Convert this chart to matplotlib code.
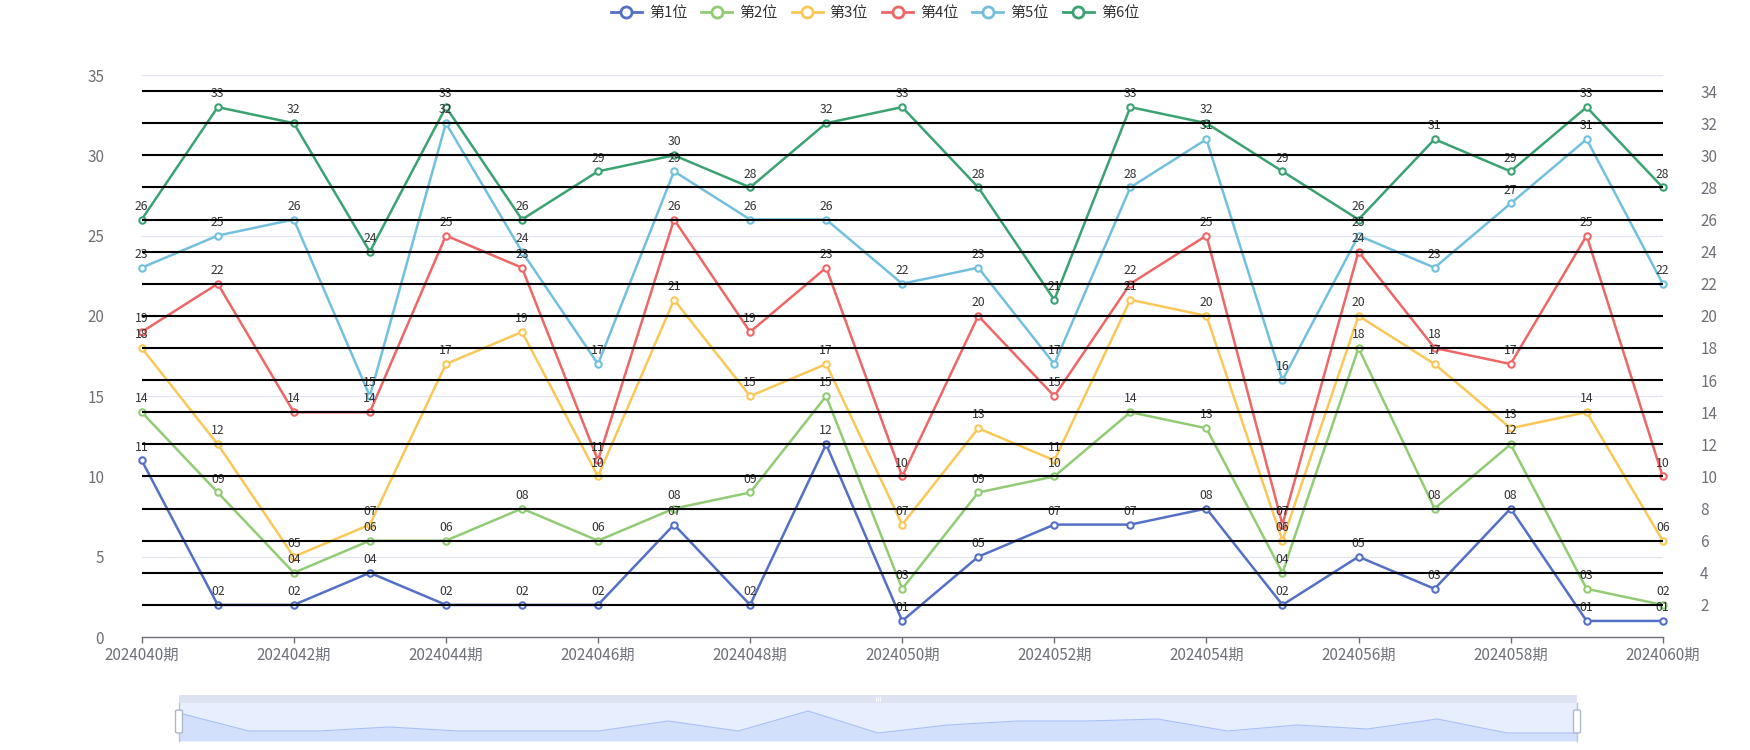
import matplotlib
matplotlib.use('Agg')
import matplotlib.pyplot as plt
from matplotlib.lines import Line2D
from matplotlib.patches import FancyBboxPatch

plt.rcParams['font.family'] = ['Noto Sans CJK SC', 'DejaVu Sans']

periods = ['2024040期', '2024041期', '2024042期', '2024043期', '2024044期', '2024045期',
           '2024046期', '2024047期', '2024048期', '2024049期', '2024050期', '2024051期',
           '2024052期', '2024053期', '2024054期', '2024055期', '2024056期', '2024057期',
           '2024058期', '2024059期', '2024060期']

names = ['第1位', '第2位', '第3位', '第4位', '第5位', '第6位']

pos1 = [11, 2, 2, 4, 2, 2, 2, 7, 2, 12, 1, 5, 7, 7, 8, 2, 5, 3, 8, 1, 1]
pos2 = [14, 9, 4, 6, 6, 8, 6, 8, 9, 15, 3, 9, 10, 14, 13, 4, 18, 8, 12, 3, 2]
pos3 = [18, 12, 5, 7, 17, 19, 10, 21, 15, 17, 7, 13, 11, 21, 20, 6, 20, 17, 13, 14, 6]
pos4 = [19, 22, 14, 14, 25, 23, 11, 26, 19, 23, 10, 20, 15, 22, 25, 7, 24, 18, 17, 25, 10]
pos5 = [23, 25, 26, 15, 32, 24, 17, 29, 26, 26, 22, 23, 17, 28, 31, 16, 25, 23, 27, 31, 22]
pos6 = [26, 33, 32, 24, 33, 26, 29, 30, 28, 32, 33, 28, 21, 33, 32, 29, 26, 31, 29, 33, 28]

left_ticks = [0, 5, 10, 15, 20, 25, 30, 35]
right_ticks = [2, 4, 6, 8, 10, 12, 14, 16, 18, 20, 22, 24, 26, 28, 30, 32, 34]

series = [pos1, pos2, pos3, pos4, pos5, pos6]
colors = ['#5470c6', '#91cc75', '#fac858', '#ee6666', '#73c0de', '#3ba272']

W, H = 1750, 750
fig = plt.figure(figsize=(W / 100, H / 100), dpi=100)

x0, x1 = 141.7, 1662.7
ytop, ybot = 75, 637
ax = fig.add_axes([x0 / W, 1 - ybot / H, (x1 - x0) / W, (ybot - ytop) / H])
ax.set_xlim(0, len(periods) - 1)
ax.set_ylim(0, 35)

xs = list(range(len(periods)))

# light grid of left axis
for t in left_ticks[1:]:
    ax.axhline(t, color='#E0E6F1', lw=0.9, zorder=0)

for vals, c in zip(series, colors):
    ax.plot(xs, vals, color=c, lw=1.8, marker='o', ms=4.6, mfc='white', mec=c,
            mew=1.5, zorder=3, clip_on=False)
    for xi, v in zip(xs, vals):
        ax.annotate(f'{v:02d}', (xi, v), xytext=(0, 9.6), textcoords='offset points',
                    ha='center', va='center', fontsize=8.8, color='#333333', zorder=4,
                    annotation_clip=False)

ax.set_xticks(xs[::2])
ax.set_xticklabels(periods[::2])
ax.set_yticks(left_ticks)
for s in ['top', 'left', 'right']:
    ax.spines[s].set_visible(False)
ax.spines['bottom'].set_color('#6E7079')
ax.spines['bottom'].set_linewidth(1.0)
ax.tick_params(axis='x', length=4.3, width=1.0, color='#6E7079', pad=3,
               labelsize=11, labelcolor='#6E7079')
ax.tick_params(axis='y', length=0, pad=27, labelsize=11, labelcolor='#6E7079')

ax2 = ax.twinx()
ax2.set_ylim(0, 35)
ax2.set_yticks(right_ticks)
for t in right_ticks:
    ax2.axhline(t, color='black', lw=1.5, zorder=10)
for s in ['top', 'left', 'right', 'bottom']:
    ax2.spines[s].set_visible(False)
ax2.tick_params(axis='y', length=0, pad=27, labelsize=11, labelcolor='#6E7079')

# legend
handles = [Line2D([], [], color=c, lw=2.0, marker='o', ms=8, mfc='white', mec=c, mew=2.0)
           for c in colors]
fig.legend(handles, names, loc='center', bbox_to_anchor=(0.5, 1 - 13 / H), ncol=6,
           frameon=False, fontsize=10.8, handlelength=2.07, handletextpad=0.47,
           columnspacing=0.93, labelcolor='#333333')

# data zoom slider
sl, sr = 179, 1577
sax = fig.add_axes([sl / W, 1 - 741 / H, (sr - sl) / W, 38 / H])
sax.set_xlim(0, len(periods) - 1)
sax.set_ylim(-3, 16)
sax.set_facecolor('#e7eefd')
sax.fill_between(xs, pos1, -3, color='#d3e0fb', lw=0)
sax.plot(xs, pos1, color='#a9c0f6', lw=0.8)
sax.set_xticks([])
sax.set_yticks([])
for s in ['top', 'bottom']:
    sax.spines[s].set_visible(False)
for s in ['left', 'right']:
    sax.spines[s].set_color('#b8c2d8')
    sax.spines[s].set_linewidth(1.0)

stax = fig.add_axes([sl / W, 1 - 703 / H, (sr - sl) / W, 8 / H])
stax.set_facecolor('#dde3f1')
stax.set_xticks([])
stax.set_yticks([])
for s in stax.spines.values():
    s.set_visible(False)
for dx in (-0.0012, 0, 0.0012):
    stax.plot([0.5 + dx] * 2, [0.25, 0.75], transform=stax.transAxes, color='white', lw=0.6)

for hx in (sl - 3.5, sr - 3.5):
    fig.patches.append(FancyBboxPatch((hx / W, 1 - 733 / H), 7 / W, 23 / H,
                                      boxstyle='round,pad=0,rounding_size=0.0015',
                                      transform=fig.transFigure, fc='white',
                                      ec='#ACB8D1', lw=1.0, zorder=5))

fig.savefig('out.png', dpi=100)
